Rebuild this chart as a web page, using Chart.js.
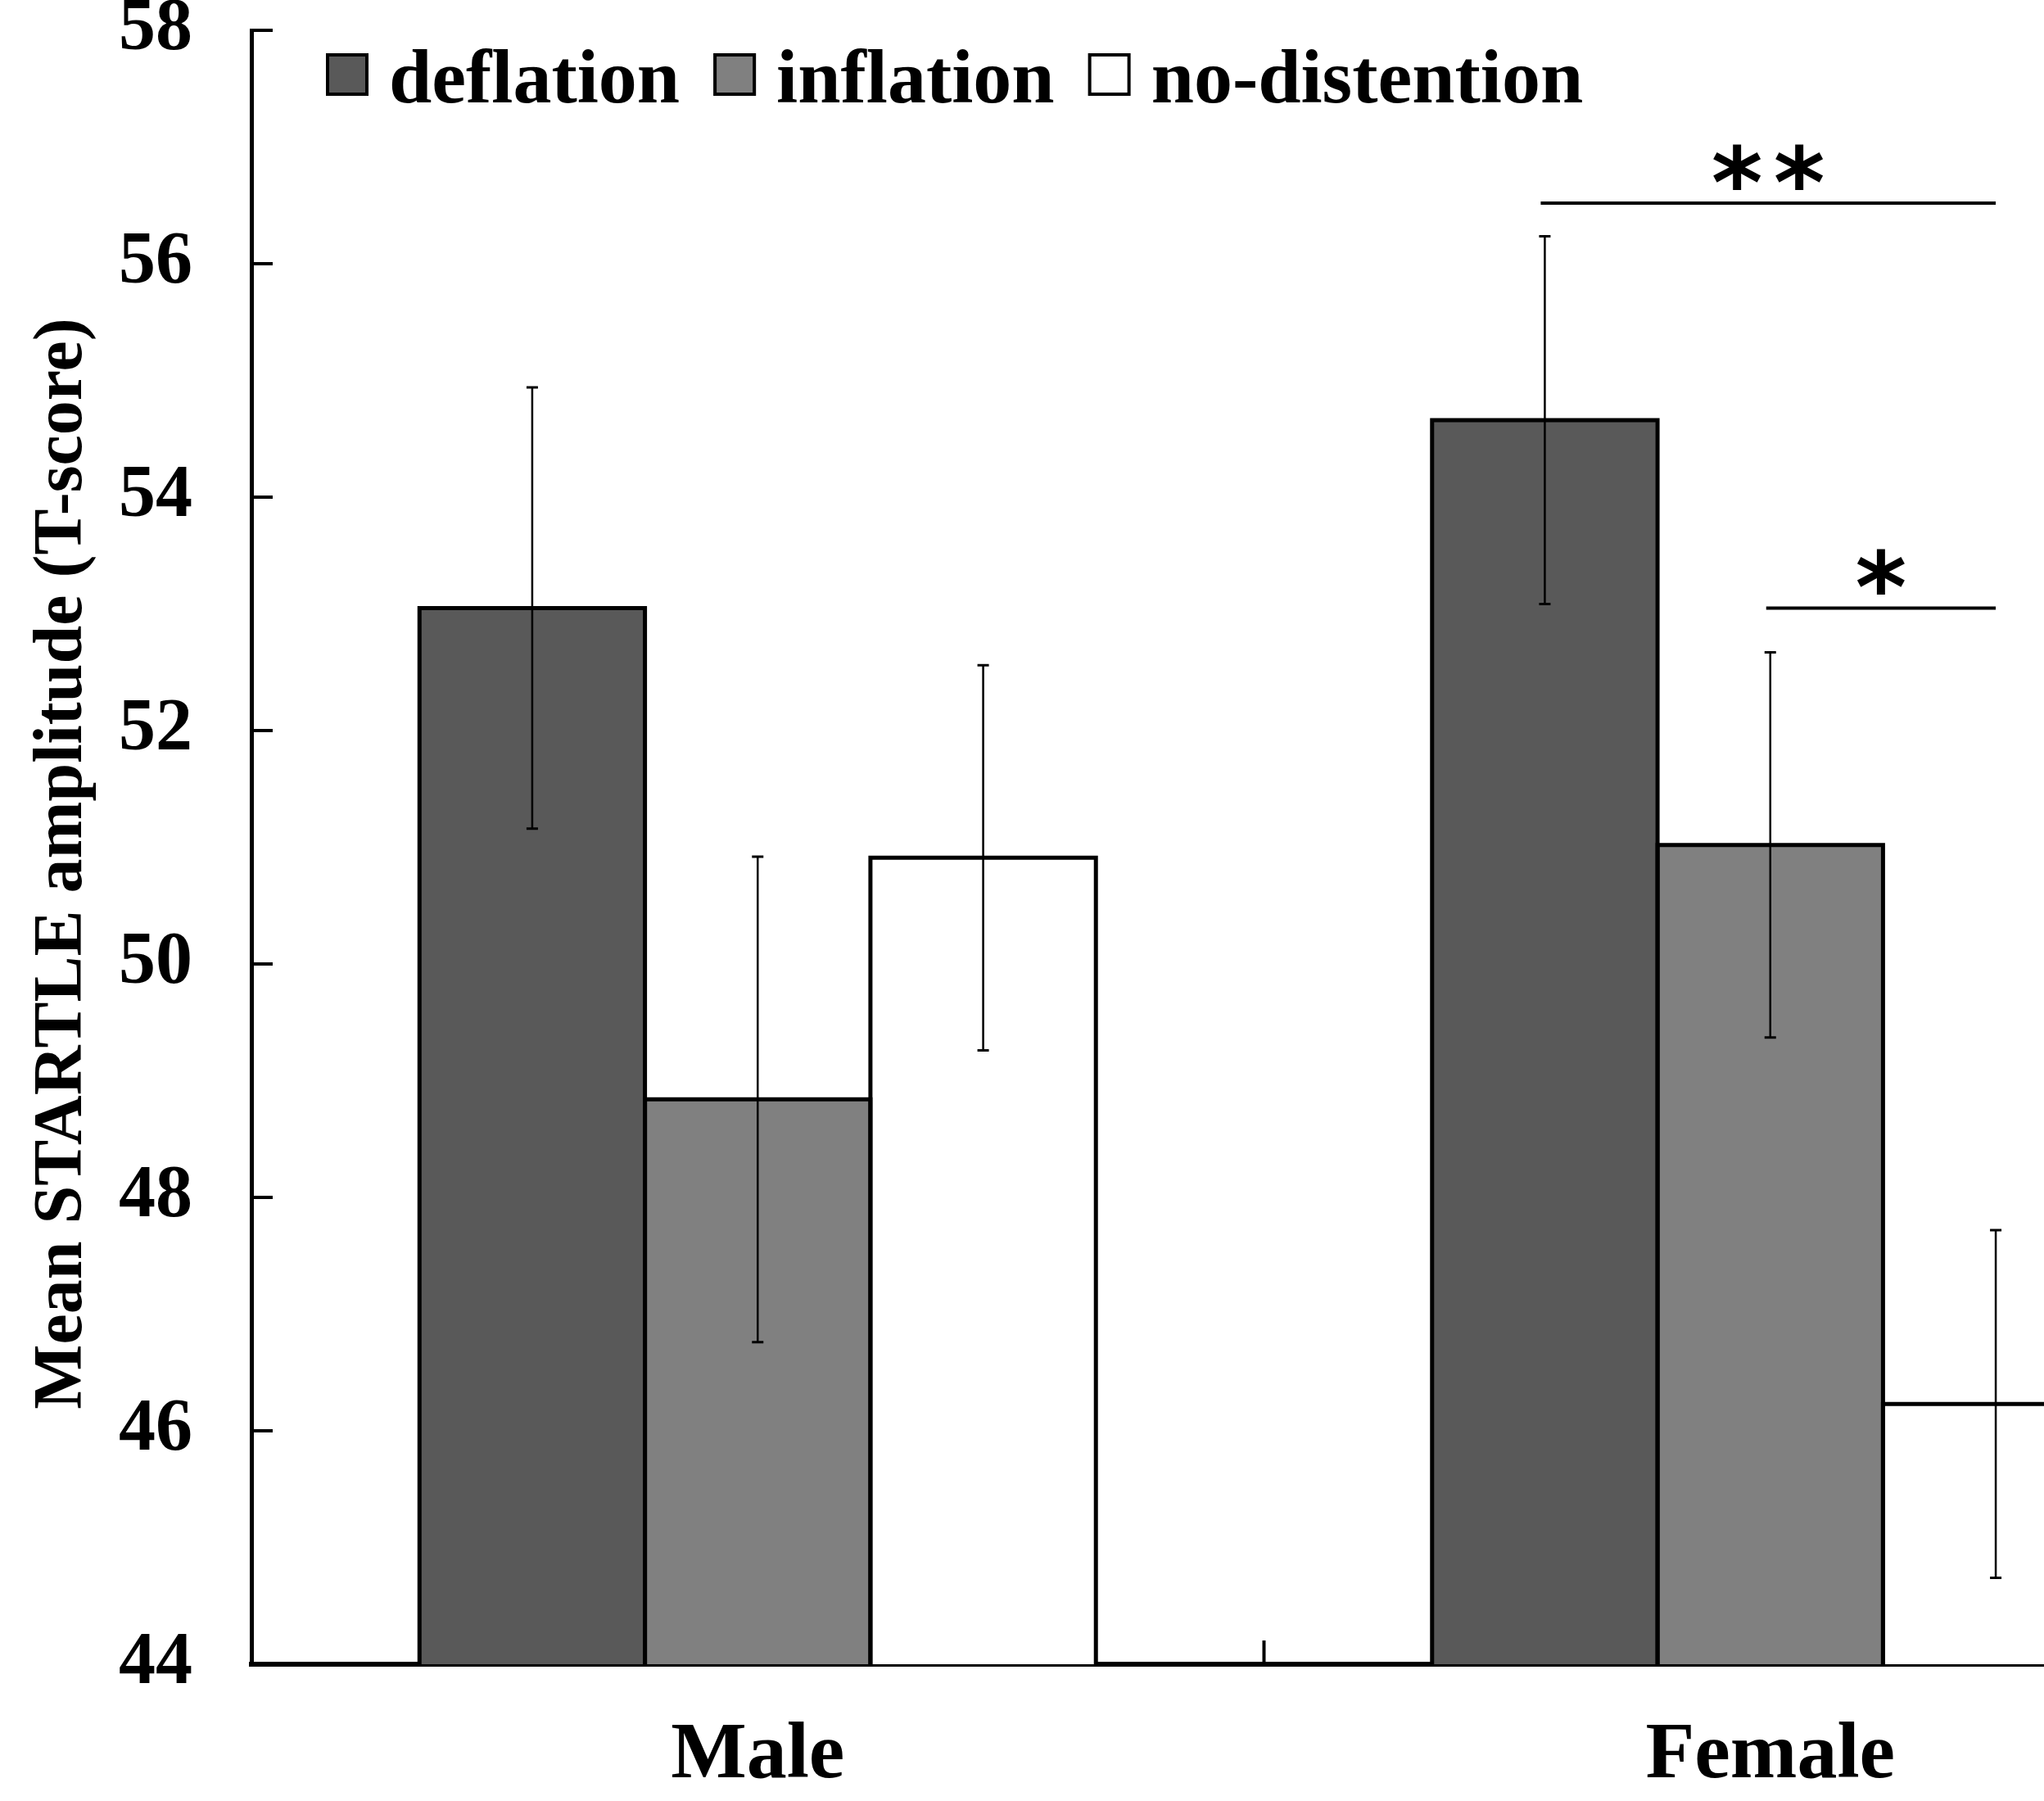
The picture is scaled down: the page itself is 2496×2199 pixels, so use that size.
<!DOCTYPE html>
<html><head><meta charset="utf-8">
<script src="https://cdn.jsdelivr.net/npm/chart.js@4.4.1/dist/chart.umd.min.js"></script>
<style>
html,body{margin:0;padding:0;background:#fff;overflow:hidden;width:2496px;height:2199px;}
#wrap{width:2790px;height:2199px;position:absolute;left:0;top:0;}
</style></head><body>
<div id="wrap"><canvas id="c" width="2790" height="2199"></canvas></div>
<script>
// ---- data ----
const categories = ['Male', 'Female'];
const seriesNames = ['deflation', 'inflation', 'no-distention'];
const deflation = [53.05, 54.66];
const inflation = [48.84, 51.02];
const noDistention = [50.91, 46.23];
const deflationErr = [1.89, 1.575];
const inflationErr = [2.08, 1.65];
const noDistentionErr = [1.65, 1.49];
const yTicks = [44, 46, 48, 50, 52, 54, 56, 58];
const sigCategory = [1, 1];
const sigFrom = [0, 1];
const sigTo = [2, 2];
const sigLevel = [56.52, 53.05];
const sigLabel = ['**', '*'];
const yTitle = 'Mean STARTLE amplitude (T-score)';

const SERIF = '"Liberation Serif", "Times New Roman", serif';

const custom = {
  id: 'custom',
  afterDatasetsDraw(chart) {
    const ctx = chart.ctx, ys = chart.scales.y;
    const floor = ys.getPixelForValue(ys.min);
    ctx.save();
    // bar outlines (shared edges coincide)
    ctx.strokeStyle = '#000';
    ctx.lineWidth = 5;
    ctx.lineJoin = 'miter';
    chart.data.datasets.forEach((ds, i) => {
      chart.getDatasetMeta(i).data.forEach(el => {
        const p = el.getProps(['x', 'y', 'base', 'width'], true);
        const l = p.x - p.width / 2, r = p.x + p.width / 2;
        const b = Math.min(p.base, floor);
        ctx.beginPath();
        ctx.moveTo(l, b); ctx.lineTo(l, p.y); ctx.lineTo(r, p.y); ctx.lineTo(r, b);
        ctx.stroke();
      });
    });
    // error bars
    chart.data.datasets.forEach((ds, i) => {
      chart.getDatasetMeta(i).data.forEach((el, j) => {
        const v = ds.data[j], e = ds.errors[j];
        const t = ys.getPixelForValue(v + e), b = ys.getPixelForValue(v - e);
        const x = el.x;
        ctx.lineWidth = 2.5;
        ctx.beginPath(); ctx.moveTo(x, t); ctx.lineTo(x, b); ctx.stroke();
        ctx.lineWidth = 3;
        ctx.beginPath();
        ctx.moveTo(x - 7, t); ctx.lineTo(x + 7, t);
        ctx.moveTo(x - 7, b); ctx.lineTo(x + 7, b);
        ctx.stroke();
      });
    });
    ctx.restore();
  },
  afterDraw(chart) {
    const ctx = chart.ctx, ys = chart.scales.y, xs = chart.scales.x, ca = chart.chartArea;
    ctx.save();
    ctx.strokeStyle = '#000';
    ctx.fillStyle = '#000';
    // inward ticks on y
    ctx.lineWidth = 4;
    ys.ticks.forEach((t, k) => {
      const py = ys.getPixelForTick(k);
      ctx.beginPath(); ctx.moveTo(ca.left, py); ctx.lineTo(ca.left + 26, py); ctx.stroke();
    });
    // inward category separators on x
    for (let k = 1; k < categories.length; k++) {
      const px = (xs.getPixelForValue(k - 1) + xs.getPixelForValue(k)) / 2;
      ctx.beginPath(); ctx.moveTo(px, ca.bottom); ctx.lineTo(px, ca.bottom - 29); ctx.stroke();
    }
    // significance brackets
    sigLevel.forEach((lev, s) => {
      const c = sigCategory[s];
      const x1 = chart.getDatasetMeta(sigFrom[s]).data[c].x - 5;
      const x2 = chart.getDatasetMeta(sigTo[s]).data[c].x;
      const py = ys.getPixelForValue(lev);
      ctx.lineWidth = 4;
      ctx.beginPath(); ctx.moveTo(x1, py); ctx.lineTo(x2, py); ctx.stroke();
      ctx.font = 'bold 120px "DejaVu Sans"';
      const chars = sigLabel[s].split('');
      const m = ctx.measureText('*');
      const step = 76;
      const mid = (x1 + x2) / 2;
      const baseY = py - 16 - m.actualBoundingBoxDescent;
      ctx.textAlign = 'center';
      ctx.textBaseline = 'alphabetic';
      chars.forEach((ch, k) => {
        const cx = mid + (k - (chars.length - 1) / 2) * step;
        ctx.fillText(ch, cx, baseY);
      });
    });
    // legend
    ctx.font = 'bold 94px ' + SERIF;
    ctx.textAlign = 'left';
    ctx.textBaseline = 'alphabetic';
    let lx = ca.left + 91;
    const boxTop = ca.top + 28, box = 52, textBase = ca.top + 88;
    chart.data.datasets.forEach(ds => {
      ctx.fillStyle = ds.backgroundColor;
      ctx.fillRect(lx, boxTop, box, box);
      ctx.lineWidth = 4;
      ctx.strokeStyle = '#000';
      ctx.strokeRect(lx + 2, boxTop + 2, box - 4, box - 4);
      ctx.fillStyle = '#000';
      const tx = lx + 77;
      ctx.fillText(ds.label, tx, textBase);
      lx = tx + ctx.measureText(ds.label).width + 41;
    });
    // y title
    ctx.font = 'bold 84px ' + SERIF;
    ctx.textAlign = 'center';
    ctx.textBaseline = 'middle';
    ctx.translate(77, (ca.top + ca.bottom) / 2 + 20);
    ctx.rotate(-Math.PI / 2);
    ctx.fillText(yTitle, 0, 0);
    ctx.restore();
  }
};

new Chart(document.getElementById('c'), {
  type: 'bar',
  data: {
    labels: categories,
    datasets: [
      { label: seriesNames[0], data: deflation, errors: deflationErr, backgroundColor: '#595959', borderWidth: 0 },
      { label: seriesNames[1], data: inflation, errors: inflationErr, backgroundColor: '#808080', borderWidth: 0 },
      { label: seriesNames[2], data: noDistention, errors: noDistentionErr, backgroundColor: '#ffffff', borderWidth: 0 }
    ]
  },
  options: {
    responsive: false,
    animation: false,
    devicePixelRatio: 1,
    layout: { padding: { top: 37, right: 10, left: 0, bottom: 0 } },
    datasets: { bar: { categoryPercentage: 0.668, barPercentage: 1.0 } },
    plugins: { legend: { display: false }, tooltip: { enabled: false }, title: { display: false } },
    scales: {
      x: {
        z: 1,
        grid: { display: false, drawTicks: false },
        border: { display: true, color: '#000', width: 6 },
        ticks: { color: '#000', padding: 54, font: { family: SERIF, size: 98, weight: 'bold' }, maxRotation: 0 },
        afterFit(s) { s.height = 167; s.paddingLeft = 0; s.paddingRight = 0; }
      },
      y: {
        z: 1,
        min: 44, max: 58,
        afterBuildTicks(s) { s.ticks = yTicks.map(v => ({ value: v })); },
        grid: { display: false, drawTicks: false },
        border: { display: true, color: '#000', width: 5 },
        ticks: { color: '#000', padding: 72, font: { family: SERIF, size: 90, weight: 'bold' } },
        afterFit(s) { s.width = 307; s.paddingTop = 0; s.paddingBottom = 0; }
      }
    }
  },
  plugins: [custom]
});
</script>
</body></html>
